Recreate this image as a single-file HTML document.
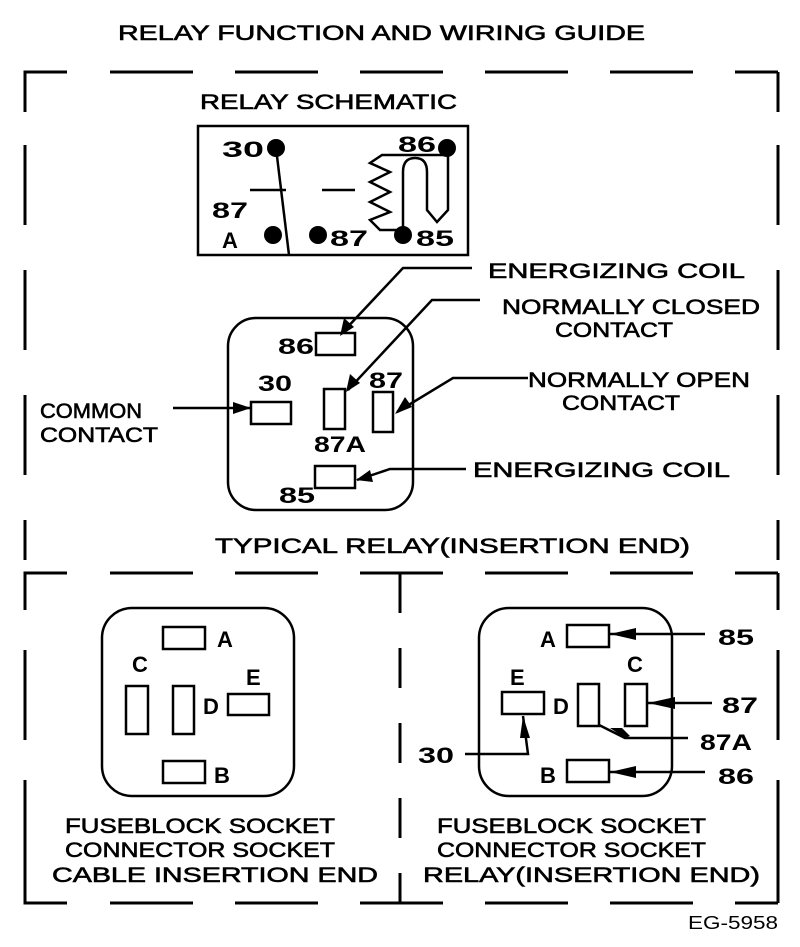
<!DOCTYPE html>
<html><head><meta charset="utf-8"><style>
html,body{margin:0;padding:0;background:#fff;}
svg{display:block}
text{font-family:"Liberation Sans",Arial,sans-serif;fill:#000;}
.t{font-size:21px;stroke:#000;stroke-width:0.6px}
.s{font-size:22px;font-weight:bold}
</style></head><body>
<svg width="800" height="947" viewBox="0 0 800 947" xmlns="http://www.w3.org/2000/svg">
<g fill="none" stroke="#000" stroke-width="3">
<path d="M25 112 V72 H67" />
<path d="M110 72 H778" stroke-dasharray="83,42"/>
<path d="M778 72 V112"/>
<path d="M25 145 V560" stroke-dasharray="80,45"/>
<path d="M778 145 V560" stroke-dasharray="80,45"/>
<path d="M25 610 V573 H67"/>
<path d="M110 573 H778" stroke-dasharray="83,42"/>
<path d="M778 573 V610"/>
<path d="M25 650 V903 H67" stroke-dasharray="90,40"/>
<path d="M25 860 V903 H67"/>
<path d="M110 903 H778" stroke-dasharray="83,42"/>
<path d="M778 650 V903" stroke-dasharray="90,40"/>
<path d="M778 860 V903"/>
<path d="M400 573 V903" stroke-dasharray="40,35"/>
</g>
<text x="118" y="40" class="t" textLength="527" lengthAdjust="spacingAndGlyphs">RELAY FUNCTION AND WIRING GUIDE</text>
<text x="200" y="109" class="t" textLength="257" lengthAdjust="spacingAndGlyphs">RELAY SCHEMATIC</text>

<g stroke="#000" stroke-width="2.5" fill="none">
<rect x="198" y="126" width="270" height="129"/>
<line x1="276" y1="148" x2="289" y2="255"/>
<line x1="250" y1="190" x2="286" y2="190"/>
<line x1="322" y1="190" x2="355" y2="190"/>
<path d="M447 155 H382 L370 163 L390 172 L370 182 L390 192 L370 202 L390 212 L370 220 L380 230 H403"/>
<path d="M403 235 V172 Q403 158 415 158 Q427 158 427 172 V210 L437 222 L448 210 V148"/>
</g>
<g fill="#000">
<circle cx="276" cy="148" r="9"/><circle cx="447" cy="148" r="9"/>
<circle cx="273" cy="235" r="9"/><circle cx="318" cy="235" r="9"/><circle cx="403" cy="235" r="9"/>
</g>
<text x="222" y="157" class="s" textLength="42" lengthAdjust="spacingAndGlyphs">30</text>
<text x="398" y="152" class="s" textLength="38" lengthAdjust="spacingAndGlyphs">86</text>
<text x="212" y="218" class="s" textLength="36" lengthAdjust="spacingAndGlyphs">87</text>
<text x="222" y="248" class="s">A</text>
<text x="330" y="246" class="s" textLength="38" lengthAdjust="spacingAndGlyphs">87</text>
<text x="416" y="246" class="s" textLength="38" lengthAdjust="spacingAndGlyphs">85</text>

<g stroke="#000" stroke-width="2.5" fill="none">
<rect x="228" y="318" width="185" height="192" rx="28"/>
<rect x="316" y="333" width="39" height="22"/>
<rect x="251" y="402" width="40" height="22"/>
<rect x="324" y="389" width="21" height="40"/>
<rect x="373" y="392" width="20" height="40"/>
<rect x="315" y="466" width="40" height="22"/>
<path d="M472 268 H403 L342 333"/>
<path d="M480 300 H432 L348 390"/>
<path d="M528 378 H453 L397 412"/>
<path d="M173 408 H250"/>
<path d="M466 469 H390 L357 480"/>
</g>
<g fill="#000">
<polygon points="340,336 344,318 354,327"/>
<polygon points="346,392 350,374 360,383"/>
<polygon points="395,414 405,397 412,407"/>
<polygon points="251,408 233,402 233,414"/>
<polygon points="356,480 370,470 373,482"/>
</g>
<text x="278" y="354" class="s" textLength="36" lengthAdjust="spacingAndGlyphs">86</text>
<text x="258" y="391" class="s" textLength="34" lengthAdjust="spacingAndGlyphs">30</text>
<text x="369" y="388" class="s" textLength="34" lengthAdjust="spacingAndGlyphs">87</text>
<text x="314" y="452" class="s" textLength="52" lengthAdjust="spacingAndGlyphs">87A</text>
<text x="279" y="503" class="s" textLength="36" lengthAdjust="spacingAndGlyphs">85</text>
<text x="488" y="278" class="t" textLength="257" lengthAdjust="spacingAndGlyphs">ENERGIZING COIL</text>
<text x="502" y="314" class="t" textLength="258" lengthAdjust="spacingAndGlyphs">NORMALLY CLOSED</text>
<text x="555" y="337" class="t" textLength="118" lengthAdjust="spacingAndGlyphs">CONTACT</text>
<text x="528" y="387" class="t" textLength="222" lengthAdjust="spacingAndGlyphs">NORMALLY OPEN</text>
<text x="562" y="410" class="t" textLength="118" lengthAdjust="spacingAndGlyphs">CONTACT</text>
<text x="40" y="418" class="t" textLength="102" lengthAdjust="spacingAndGlyphs">COMMON</text>
<text x="40" y="442" class="t" textLength="118" lengthAdjust="spacingAndGlyphs">CONTACT</text>
<text x="473" y="477" class="t" textLength="257" lengthAdjust="spacingAndGlyphs">ENERGIZING COIL</text>
<text x="215" y="553" class="t" textLength="475" lengthAdjust="spacingAndGlyphs">TYPICAL RELAY(INSERTION END)</text>

<g stroke="#000" stroke-width="2.5" fill="none">
<rect x="102" y="608" width="192" height="188" rx="30"/>
<rect x="163" y="627" width="42" height="22"/>
<rect x="126" y="686" width="22" height="48"/>
<rect x="173" y="686" width="21" height="48"/>
<rect x="228" y="694" width="41" height="21"/>
<rect x="163" y="761" width="42" height="22"/>
</g>
<text x="217" y="647" class="s">A</text>
<text x="132" y="672" class="s">C</text>
<text x="203" y="714" class="s">D</text>
<text x="246" y="685" class="s">E</text>
<text x="214" y="783" class="s">B</text>
<text x="65" y="833" class="t" textLength="270" lengthAdjust="spacingAndGlyphs">FUSEBLOCK SOCKET</text>
<text x="65" y="857" class="t" textLength="270" lengthAdjust="spacingAndGlyphs">CONNECTOR SOCKET</text>
<text x="52" y="882" class="t" textLength="326" lengthAdjust="spacingAndGlyphs">CABLE INSERTION END</text>

<g stroke="#000" stroke-width="2.5" fill="none">
<rect x="479" y="608" width="193" height="188" rx="30"/>
<rect x="567" y="625" width="42" height="22"/>
<rect x="625" y="684" width="22" height="42"/>
<rect x="502" y="692" width="42" height="22"/>
<rect x="578" y="684" width="21" height="42"/>
<rect x="567" y="760" width="42" height="22"/>
<path d="M705 634 H610"/>
<path d="M712 703 H648"/>
<path d="M599 725 L625 738 H688"/>
<path d="M465 754 H528 L523 716"/>
<path d="M705 772 H610"/>
</g>
<g fill="#000">
<polygon points="610,634 636,628 636,640"/>
<polygon points="648,703 675,697 675,709"/>
<polygon points="625,738 610,728 622,728 630,736"/>
<polygon points="523,716 520,738 530,738"/>
<polygon points="610,772 636,766 636,778"/>
</g>
<text x="540" y="647" class="s">A</text>
<text x="627" y="672" class="s">C</text>
<text x="510" y="685" class="s">E</text>
<text x="553" y="714" class="s">D</text>
<text x="540" y="783" class="s">B</text>
<text x="718" y="645" class="s" textLength="36" lengthAdjust="spacingAndGlyphs">85</text>
<text x="722" y="713" class="s" textLength="36" lengthAdjust="spacingAndGlyphs">87</text>
<text x="700" y="750" class="s" textLength="52" lengthAdjust="spacingAndGlyphs">87A</text>
<text x="418" y="763" class="s" textLength="36" lengthAdjust="spacingAndGlyphs">30</text>
<text x="718" y="784" class="s" textLength="36" lengthAdjust="spacingAndGlyphs">86</text>
<text x="437" y="833" class="t" textLength="269" lengthAdjust="spacingAndGlyphs">FUSEBLOCK SOCKET</text>
<text x="437" y="857" class="t" textLength="269" lengthAdjust="spacingAndGlyphs">CONNECTOR SOCKET</text>
<text x="423" y="882" class="t" textLength="337" lengthAdjust="spacingAndGlyphs">RELAY(INSERTION END)</text>

<text x="688" y="929" style="font-size:18px" textLength="90" lengthAdjust="spacingAndGlyphs">EG-5958</text>
</svg>
</body></html>
